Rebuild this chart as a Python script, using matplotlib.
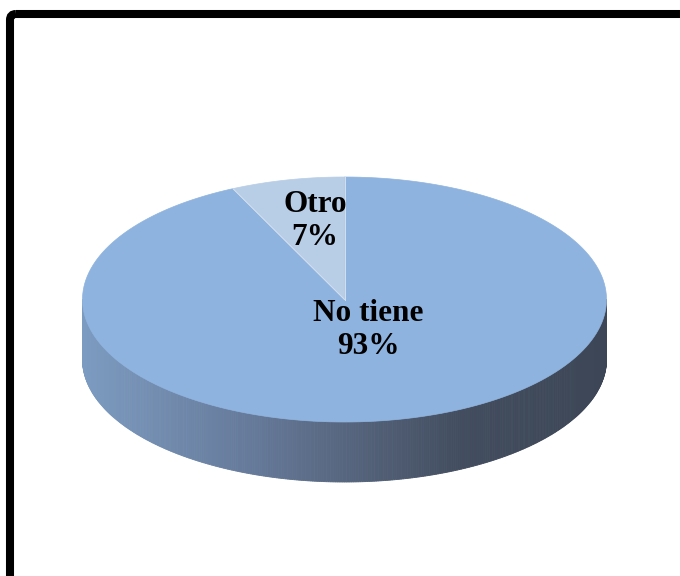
import numpy as np
import matplotlib
matplotlib.use('Agg')
from matplotlib import pyplot as plt
from matplotlib.patches import Polygon, FancyBboxPatch
from matplotlib.colors import LinearSegmentedColormap

labels = ["No tiene", "Otro"]
values = [93, 7]
top_colors = ["#8EB3DE", "#B8CDE6"]

# pie geometry in pixel units (y grows downward)
cx, cy = 344.5, 299.5
rx, ry = 262, 122.5
depth = 60

side_cmap = LinearSegmentedColormap.from_list(
    "side", [(0.0, "#7C9BC0"), (0.3, "#677C9D"), (0.5, "#57667F"),
             (0.72, "#424D5F"), (1.0, "#3C4656")])


def rim(theta):
    # theta in degrees, clockwise from 12 o'clock
    t = np.radians(theta)
    return cx + rx * np.sin(t), cy - ry * np.cos(t)


fig = plt.figure(figsize=(6.8, 5.76), dpi=100)
ax = fig.add_axes([0, 0, 1, 1])
ax.set_xlim(0, 680)
ax.set_ylim(576, 0)
ax.axis('off')

# frame round the chart
frame = FancyBboxPatch((10, 14), 700, 600, boxstyle="round,pad=0,rounding_size=6",
                       fill=False, edgecolor='black', linewidth=5.8)
ax.add_patch(frame)

# side wall, front half only (90..270 deg clockwise from top)
ths = np.linspace(90, 270, 361)
for t0, t1 in zip(ths[:-1], ths[1:]):
    x0, y0 = rim(t0)
    x1, y1 = rim(t1)
    frac = ((x0 + x1) / 2 - (cx - rx)) / (2 * rx)
    col = side_cmap(frac)
    ax.add_patch(Polygon([(x0, y0), (x1, y1), (x1, y1 + depth), (x0, y0 + depth)],
                         closed=True, facecolor=col, edgecolor=col, linewidth=0.6))

# top face, slices clockwise from 12 o'clock
total = float(sum(values))
start = 0.0
for val, col in zip(values, top_colors):
    span = 360.0 * val / total
    th = np.linspace(start, start + span, 200)
    xs, ys = rim(th)
    pts = [(cx, cy)] + list(zip(xs, ys))
    ax.add_patch(Polygon(pts, closed=True, facecolor=col, edgecolor=col,
                         linewidth=0.5))
    start += span

# thin light seams between slices
start = 0.0
for val in values:
    ex, ey = rim(start)
    ax.plot([cx, ex], [cy, ey], color='#D4E0EF', linewidth=0.7)
    start += 360.0 * val / total

font = dict(family=['Liberation Serif', 'DejaVu Serif'], fontweight='bold',
            fontsize=22.5, color='black', ha='center', va='center', linespacing=1.2)
ax.text(368, 330, f"{labels[0]}\n{values[0]}%", **font)
ax.text(315, 221, f"{labels[1]}\n{values[1]}%", **font)

plt.savefig("out.png", dpi=100)
